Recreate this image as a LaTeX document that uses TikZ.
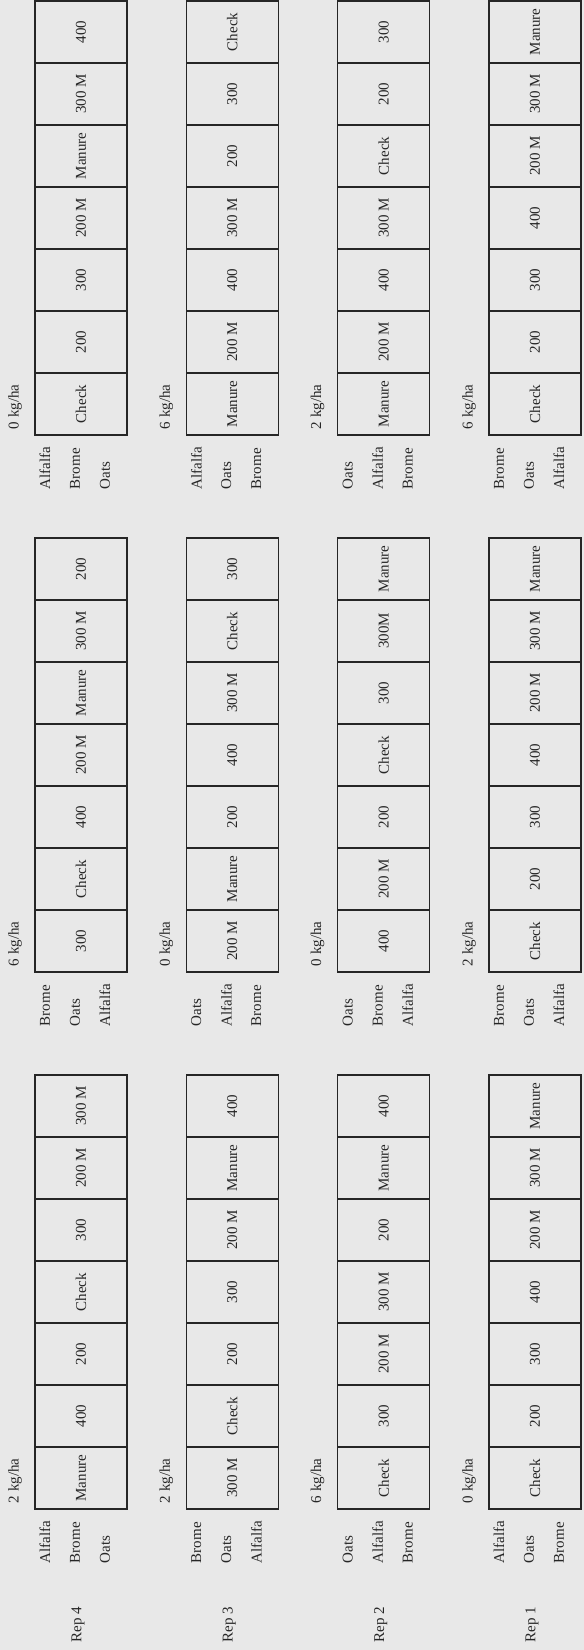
\documentclass[tikz,border=0pt]{standalone}
\usepackage{fontspec}
\setmainfont{Liberation Serif}
\definecolor{paper}{RGB}{232,232,232}
\definecolor{ink}{RGB}{38,38,38}
\tikzset{
  sidelabel/.style={rotate=90, anchor=west},
  plotcell/.style={draw=ink, line width=0.9pt, rotate=90, inner sep=0pt,
    minimum width=37.2pt, minimum height=55.2pt}
}
\begin{document}
\begin{tikzpicture}[x=0.6pt, y=-0.6pt,
    every node/.style={font=\fontsize{9}{10}\selectfont, text=ink}]
    \fill[paper] (0,0) rectangle (584,1650);
    \useasboundingbox (0,0) rectangle (584,1650);

    % replicate labels
    \foreach \r/\rep in {0/4,1/3,2/2,3/1}{
      \pgfmathsetmacro\L{35+151.33*\r}
      \node[sidelabel] (rep\rep) at (\L+43,1648) {Rep \rep};
    }

    % row / block / seeding rate / species order / plots
    \foreach \r/\b/\kg/\spa/\spb/\spc/\plots in {
      0/0/2/Alfalfa/Brome/Oats/{Manure,400,200,Check,300,200 M,300 M},
      0/1/6/Brome/Oats/Alfalfa/{300,Check,400,200 M,Manure,300 M,200},
      0/2/0/Alfalfa/Brome/Oats/{Check,200,300,200 M,Manure,300 M,400},
      1/0/2/Brome/Oats/Alfalfa/{300 M,Check,200,300,200 M,Manure,400},
      1/1/0/Oats/Alfalfa/Brome/{200 M,Manure,200,400,300 M,Check,300},
      1/2/6/Alfalfa/Oats/Brome/{Manure,200 M,400,300 M,200,300,Check},
      2/0/6/Oats/Alfalfa/Brome/{Check,300,200 M,300 M,200,Manure,400},
      2/1/0/Oats/Brome/Alfalfa/{400,200 M,200,Check,300,300M,Manure},
      2/2/2/Oats/Alfalfa/Brome/{Manure,200 M,400,300 M,Check,200,300},
      3/0/0/Alfalfa/Oats/Brome/{Check,200,300,400,200 M,300 M,Manure},
      3/1/2/Brome/Oats/Alfalfa/{Check,200,300,400,200 M,300 M,Manure},
      3/2/6/Brome/Oats/Alfalfa/{Check,200,300,400,200 M,300 M,Manure}}{
      \pgfmathsetmacro\L{35+151.33*\r}
      \pgfmathsetmacro\B{1509-537*\b}
      \node[sidelabel] (kg-\r-\b) at (\L-20,\B) {\kg\ kg/ha};
      \node[sidelabel] (spa-\r-\b) at (\L+10,\B+60) {\spa};
      \node[sidelabel] (spb-\r-\b) at (\L+40,\B+60) {\spb};
      \node[sidelabel] (spc-\r-\b) at (\L+70,\B+60) {\spc};
      \foreach \p [count=\i] in \plots
        \node[plotcell] (plot-\r-\b-\i) at (\L+46,\B+31-62*\i) {\p};
    }
\end{tikzpicture}
\end{document}
